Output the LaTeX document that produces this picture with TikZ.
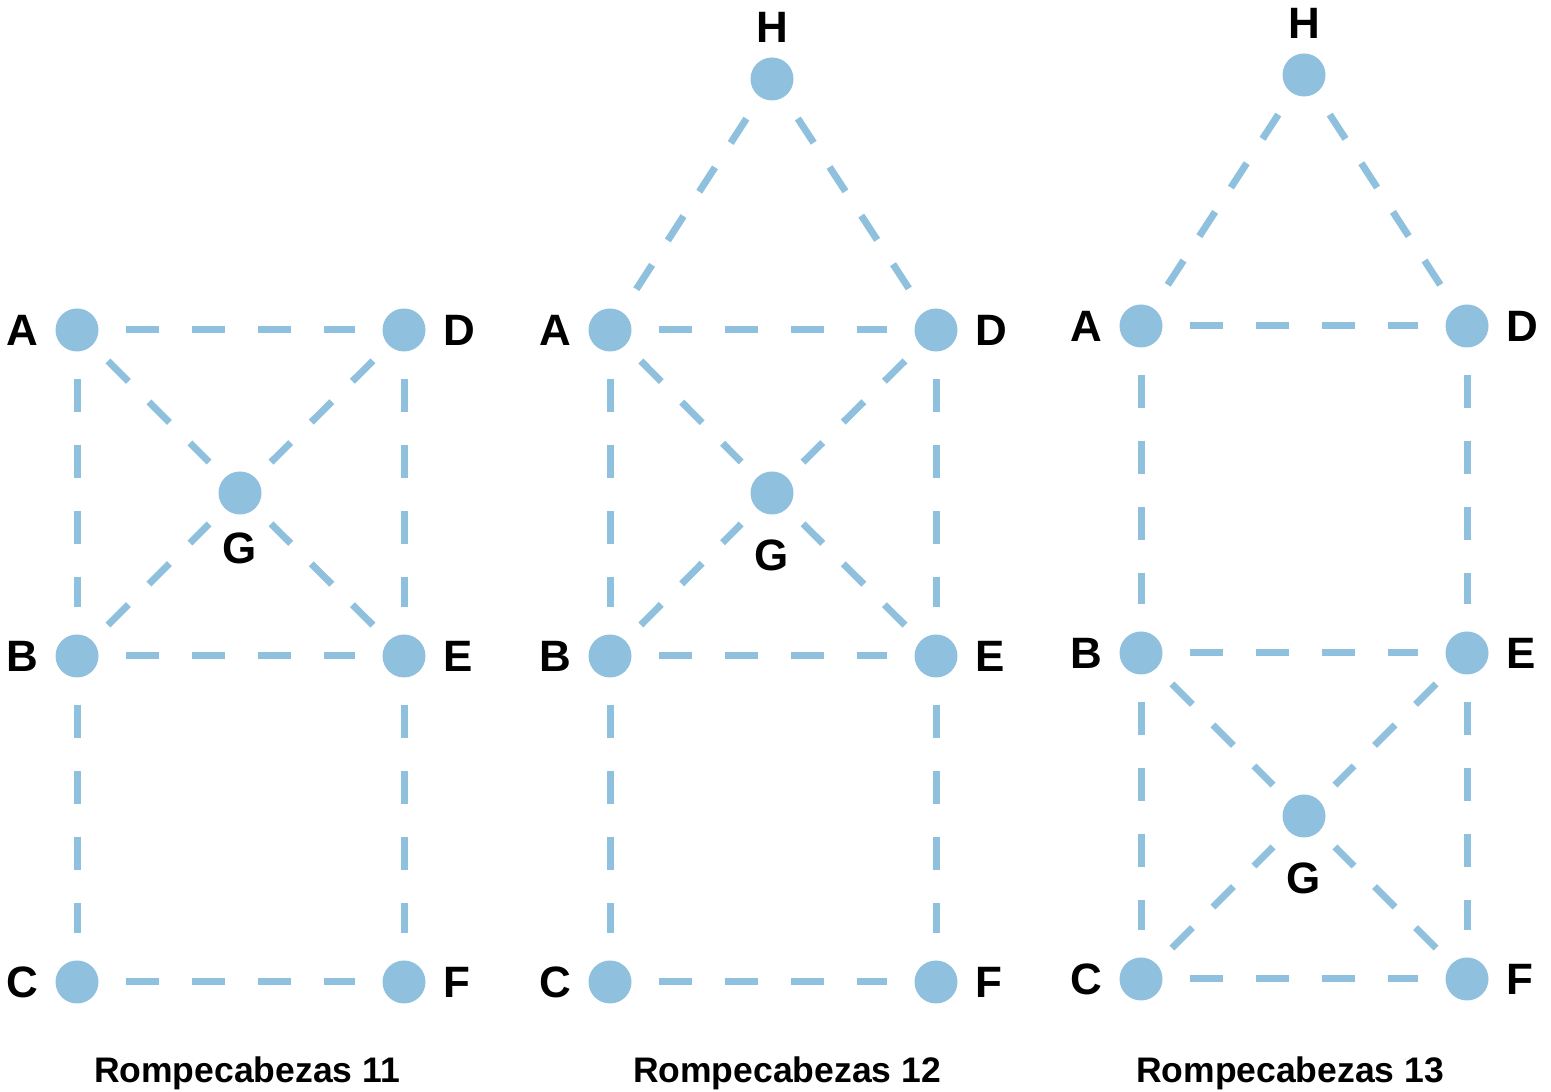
\documentclass[tikz,border=0pt]{standalone}
\usepackage{xcolor}
\usepackage{fontspec}
\setmainfont{Liberation Sans}
\usetikzlibrary{positioning}

\definecolor{dotblue}{RGB}{143,192,222}

\tikzset{
  dot/.style={circle, fill=dotblue, inner sep=0pt, minimum size=0.43cm},
  lbl/.style={font=\fontsize{12.5}{14}\selectfont\bfseries, inner sep=0pt},
  caption/.style={font=\fontsize{10.1}{12}\selectfont\bfseries, inner sep=0pt},
  link/.style={dotblue, line width=0.07cm, dash pattern=on 0.33cm off 0.33cm,
    shorten <=0.265cm, shorten >=0.265cm},
  slant/.style={link, dash pattern=on 0.29cm off 0.29cm,
    shorten <=0.215cm, shorten >=0.215cm},
  roof/.style={slant, shorten <=0.25cm, shorten >=0.25cm},
}

\begin{document}
\begin{tikzpicture}
          \useasboundingbox (0,0) rectangle (15.51,10.92);

          % Rompecabezas 11
          \node[dot] (A11) at (0.77,7.62) {};
          \node[dot] (D11) at (4.04,7.62) {};
          \node[dot] (G11) at (2.40,5.99) {};
          \node[dot] (B11) at (0.77,4.36) {};
          \node[dot] (E11) at (4.04,4.36) {};
          \node[dot] (C11) at (0.77,1.10) {};
          \node[dot] (F11) at (4.04,1.10) {};

          \node[lbl, left=0.16 of A11] {A};
          \node[lbl, right=0.17 of D11] {D};
          \node[lbl, below=0.17 of G11] {G};
          \node[lbl, left=0.16 of B11] {B};
          \node[lbl, right=0.17 of E11] {E};
          \node[lbl, left=0.16 of C11] {C};
          \node[lbl, right=0.17 of F11] {F};

          \draw[link] (A11) -- (D11);
          \draw[link] (B11) -- (E11);
          \draw[link] (C11) -- (F11);
          \draw[link] (A11) -- (B11);
          \draw[link] (B11) -- (C11);
          \draw[link] (D11) -- (E11);
          \draw[link] (E11) -- (F11);
          \draw[slant] (A11) -- (G11);
          \draw[slant] (D11) -- (G11);
          \draw[slant] (B11) -- (G11);
          \draw[slant] (E11) -- (G11);

          \node[caption] (cap11) at (2.47,0.19) {Rompecabezas 11};

          % Rompecabezas 12
          \node[dot] (H12) at (7.72,10.13) {};
          \node[dot] (A12) at (6.10,7.62) {};
          \node[dot] (D12) at (9.36,7.62) {};
          \node[dot] (G12) at (7.72,5.99) {};
          \node[dot] (B12) at (6.10,4.36) {};
          \node[dot] (E12) at (9.36,4.36) {};
          \node[dot] (C12) at (6.10,1.10) {};
          \node[dot] (F12) at (9.36,1.10) {};

          \node[lbl, above=0.14 of H12] {H};
          \node[lbl, left=0.16 of A12] {A};
          \node[lbl, right=0.17 of D12] {D};
          \node[lbl, below=0.24 of G12] {G};
          \node[lbl, left=0.16 of B12] {B};
          \node[lbl, right=0.17 of E12] {E};
          \node[lbl, left=0.16 of C12] {C};
          \node[lbl, right=0.17 of F12] {F};

          \draw[roof] (H12) -- (A12);
          \draw[roof] (H12) -- (D12);
          \draw[link] (A12) -- (D12);
          \draw[link] (B12) -- (E12);
          \draw[link] (C12) -- (F12);
          \draw[link] (A12) -- (B12);
          \draw[link] (B12) -- (C12);
          \draw[link] (D12) -- (E12);
          \draw[link] (E12) -- (F12);
          \draw[slant] (A12) -- (G12);
          \draw[slant] (D12) -- (G12);
          \draw[slant] (B12) -- (G12);
          \draw[slant] (E12) -- (G12);

          \node[caption] (cap12) at (7.87,0.19) {Rompecabezas 12};

          % Rompecabezas 13
          \node[dot] (H13) at (13.04,10.17) {};
          \node[dot] (A13) at (11.41,7.66) {};
          \node[dot] (D13) at (14.67,7.66) {};
          \node[dot] (B13) at (11.41,4.39) {};
          \node[dot] (E13) at (14.67,4.39) {};
          \node[dot] (G13) at (13.04,2.76) {};
          \node[dot] (C13) at (11.41,1.13) {};
          \node[dot] (F13) at (14.67,1.13) {};

          \node[lbl, above=0.14 of H13] {H};
          \node[lbl, left=0.16 of A13] {A};
          \node[lbl, right=0.17 of D13] {D};
          \node[lbl, left=0.16 of B13] {B};
          \node[lbl, right=0.17 of E13] {E};
          \node[lbl, below=0.24 of G13] {G};
          \node[lbl, left=0.16 of C13] {C};
          \node[lbl, right=0.17 of F13] {F};

          \draw[roof] (H13) -- (A13);
          \draw[roof] (H13) -- (D13);
          \draw[link] (A13) -- (D13);
          \draw[link] (B13) -- (E13);
          \draw[link] (C13) -- (F13);
          \draw[link] (A13) -- (B13);
          \draw[link] (B13) -- (C13);
          \draw[link] (D13) -- (E13);
          \draw[link] (E13) -- (F13);
          \draw[slant] (B13) -- (G13);
          \draw[slant] (E13) -- (G13);
          \draw[slant] (C13) -- (G13);
          \draw[slant] (F13) -- (G13);

          \node[caption] (cap13) at (12.90,0.19) {Rompecabezas 13};

          \end{tikzpicture}
\end{document}
